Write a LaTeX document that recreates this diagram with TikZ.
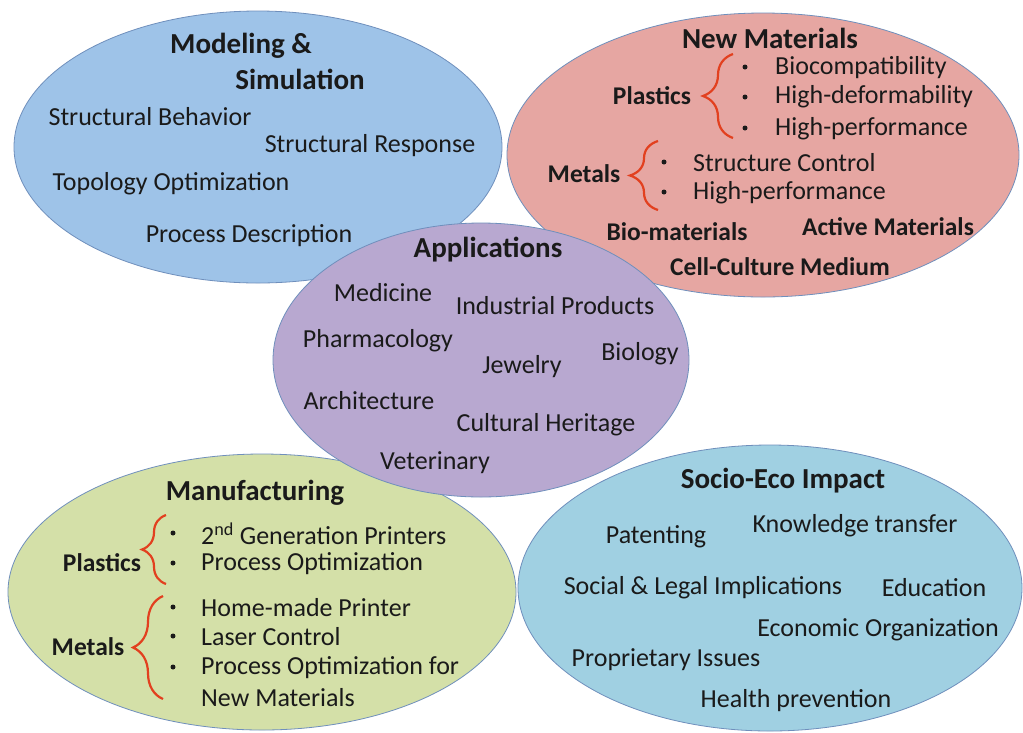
\documentclass[tikz,border=0pt]{standalone}
\usepackage{fontspec}
\setmainfont{Carlito}
\usetikzlibrary{shapes.geometric,decorations.pathreplacing}
\definecolor{blueF}{HTML}{9EC3E8}
\definecolor{redF}{HTML}{E6A6A2}
\definecolor{purpF}{HTML}{B8A8D0}
\definecolor{greenF}{HTML}{D4E0A8}
\definecolor{cyanF}{HTML}{A0D0E2}
\definecolor{rim}{HTML}{6F8FBC}
\definecolor{ink}{HTML}{1A1A1A}
\definecolor{braceRed}{HTML}{E2401F}
\begin{document}
\begin{tikzpicture}[x=1pt,y=-1pt,
  bubble/.style={ellipse,draw=rim,line width=0.8pt,inner sep=0pt},
  item/.style={inner sep=0pt,text=ink,font=\fontsize{26}{30}\selectfont},
  itemL/.style={item,anchor=west},
  head/.style={inner sep=0pt,text=ink,font=\fontsize{29}{33}\selectfont\bfseries},
  sub/.style={inner sep=0pt,text=ink,font=\fontsize{25.5}{30}\selectfont\bfseries},
  dot/.style={circle,fill=ink,inner sep=0pt,minimum size=5pt},
  curly/.style={draw=braceRed,line width=2.2pt,decorate,decoration={brace,amplitude=#1,aspect=0.5}}]
\useasboundingbox[fill=white] (0,0) rectangle (1023,732);

% the five topic bubbles (Applications on top)
\node[bubble,fill=blueF,minimum width=488pt,minimum height=272pt] (ms) at (258,147) {};
\node[bubble,fill=redF,minimum width=512pt,minimum height=284pt] (nm) at (763,155) {};
\node[bubble,fill=greenF,minimum width=508pt,minimum height=276pt] (mf) at (262,592) {};
\node[bubble,fill=cyanF,minimum width=504pt,minimum height=286pt] (se) at (770,588) {};
\node[bubble,fill=purpF,minimum width=416pt,minimum height=274pt] (ap) at (481,360) {};

% Modeling & Simulation
\node[head] (msT1) at (241,46) {Modeling \&};
\node[head] (msT2) at (300,79) {Simulation};
\node[item] (ms1) at (150,117) {Structural Behavior};
\node[item] (ms2) at (370,146) {Structural Response};
\node[item] (ms3) at (171,184) {Topology Optimization};
\node[item] (ms4) at (249,236) {Process Description};

% New Materials
\node[head] (nmT) at (770,38) {New Materials};
\node[sub] (nmP) at (652,96) {Plastics};
\coordinate (nmPa) at (733,138);
\coordinate (nmPb) at (733,54);
\draw[curly=30pt] (nmPa) -- (nmPb);
\node[dot] (nmPd1) at (745,67) {};
\node[dot] (nmPd2) at (745,97) {};
\node[dot] (nmPd3) at (745,128) {};
\node[itemL] (nm1) at (775,68) {Biocompatibility};
\node[itemL] (nm2) at (775,97) {High-deformability};
\node[itemL] (nm3) at (775,129) {High-performance};
\node[sub] (nmM) at (584,174) {Metals};
\coordinate (nmMa) at (658,210);
\coordinate (nmMb) at (658,141);
\draw[curly=28pt] (nmMa) -- (nmMb);
\node[dot] (nmMd1) at (664,162) {};
\node[dot] (nmMd2) at (664,192) {};
\node[itemL] (nm4) at (693,163) {Structure Control};
\node[itemL] (nm5) at (693,193) {High-performance};
\node[sub] (nm6) at (677,232) {Bio-materials};
\node[sub] (nm7) at (888,227) {Active Materials};
\node[sub] (nm8) at (780,267) {Cell-Culture Medium};

% Applications
\node[head] (apT) at (488,250) {Applications};
\node[item] (ap1) at (383,293) {Medicine};
\node[item] (ap2) at (555,306) {Industrial Products};
\node[item] (ap3) at (378,341) {Pharmacology};
\node[item] (ap4) at (522,367) {Jewelry};
\node[item] (ap5) at (640,354) {Biology};
\node[item] (ap6) at (369,401) {Architecture};
\node[item] (ap7) at (546,425) {Cultural Heritage};
\node[item] (ap8) at (435,463) {Veterinary};

% Manufacturing
\node[head] (mfT) at (255,493) {Manufacturing};
\node[sub] (mfP) at (102,563) {Plastics};
\coordinate (mfPa) at (166,584);
\coordinate (mfPb) at (166,515);
\draw[curly=24pt] (mfPa) -- (mfPb);
\node[dot] (mfPd1) at (173,533) {};
\node[dot] (mfPd2) at (173,563) {};
\node[itemL] (mf1) at (201,534) {2\textsuperscript{nd} Generation Printers};
\node[itemL] (mf2) at (201,564) {Process Optimization};
\node[sub] (mfM) at (88,647) {Metals};
\coordinate (mfMa) at (163,699);
\coordinate (mfMb) at (163,596);
\draw[curly=30pt] (mfMa) -- (mfMb);
\node[dot] (mfMd1) at (173,607) {};
\node[dot] (mfMd2) at (173,636) {};
\node[dot] (mfMd3) at (173,667) {};
\node[itemL] (mf3) at (201,608) {Home-made Printer};
\node[itemL] (mf4) at (201,637) {Laser Control};
\node[itemL] (mf5) at (201,668) {Process Optimization for};
\node[itemL] (mf6) at (201,698) {New Materials};

% Socio-Eco Impact
\node[head] (seT) at (783,481) {Socio-Eco Impact};
\node[item] (se1) at (656,537) {Patenting};
\node[item] (se2) at (855,526) {Knowledge transfer};
\node[item] (se3) at (703,588) {Social \& Legal Implications};
\node[item] (se4) at (934,588) {Education};
\node[item] (se5) at (878,630) {Economic Organization};
\node[item] (se6) at (666,660) {Proprietary Issues};
\node[item] (se7) at (796,701) {Health prevention};
\end{tikzpicture}
\end{document}
